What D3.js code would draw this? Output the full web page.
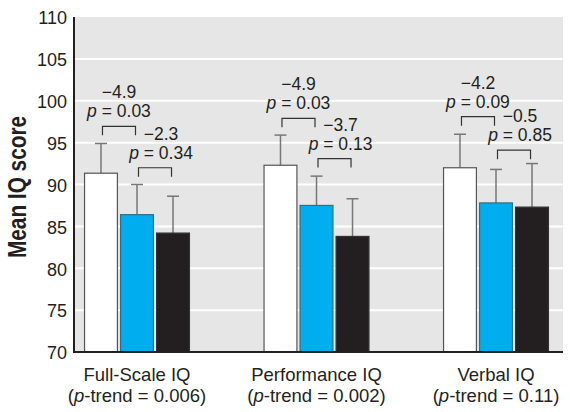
<!DOCTYPE html>
<html><head><meta charset="utf-8">
<script src="https://cdn.jsdelivr.net/npm/d3@7"></script>
<style>
body{margin:0;background:#fff;}
text{font-family:"Liberation Sans Narrow","Arial Narrow",sans-serif;}
</style></head>
<body><svg id="c" width="570" height="412"></svg>
<script>
const groups = ["Full-Scale IQ","Performance IQ","Verbal IQ"];
const trendLabels = ["0.006","0.002","0.11"];
const seriesNames = ["low","mid","high"];
const seriesColors = ["#ffffff","#00aeef","#231f20"];
const seriesStroke = ["#555555","#2d6f86","#333333"];
const means = [[91.35,86.4,84.2],[92.3,87.5,83.8],[92.0,87.8,87.3]];
const errTops = [[94.9,90.0,88.6],[95.9,91.0,88.3],[96.0,91.8,92.5]];
const diffLabels = [["\u22124.9","\u22122.3"],["\u22124.9","\u22123.7"],["\u22124.2","\u22120.5"]];
const pLabels = [["0.03","0.34"],["0.03","0.13"],["0.09","0.85"]];
const bracketLevels = [[96.95,92.0],[97.9,93.1],[98.1,94.1]];
const yTicks = [70,75,80,85,90,95,100,105,110];

const svg = d3.select("#c");
const L=74,R=563,T=17,B=352;
const y = d3.scaleLinear().domain([70,110]).range([B,T]);
const x0 = d3.scaleBand().domain(groups).range([47.25,585.75]).paddingInner(0.41).paddingOuter(0.205);
const x1 = d3.scaleBand().domain(seriesNames).range([0,x0.bandwidth()]).paddingInner(0.06);

svg.append("rect").attr("x",L).attr("y",T).attr("width",R-L).attr("height",B-T).attr("fill","#e6e6e6");
svg.append("g").selectAll("line").data(yTicks.filter(d=>d>70&&d<110)).join("line")
  .attr("x1",L).attr("x2",R).attr("y1",d=>y(d)).attr("y2",d=>y(d)).attr("stroke","#fff").attr("stroke-width",2);

const yAxis = svg.append("g").attr("transform",`translate(${L},0)`)
  .call(d3.axisLeft(y).tickValues(yTicks).tickSize(0).tickPadding(7));
yAxis.select(".domain").remove();
yAxis.selectAll("text").attr("font-size",18).attr("fill","#231f20").attr("dy","0.38em");

groups.forEach((g,gi)=>{
  const gx = x0(g);
  const cx = i => gx + x1(seriesNames[i]) + x1.bandwidth()/2;
  const gg = svg.append("g");
  seriesNames.forEach((s,i)=>{
    gg.append("line").attr("x1",cx(i)).attr("x2",cx(i)).attr("y1",y(means[gi][i])).attr("y2",y(errTops[gi][i]))
      .attr("stroke","#777").attr("stroke-width",1.5);
    gg.append("line").attr("x1",cx(i)-6).attr("x2",cx(i)+6).attr("y1",y(errTops[gi][i])).attr("y2",y(errTops[gi][i]))
      .attr("stroke","#777").attr("stroke-width",1.5);
  });
  gg.selectAll("rect").data(means[gi]).join("rect")
    .attr("x",(d,i)=>gx+x1(seriesNames[i])+0.5).attr("width",x1.bandwidth()-1)
    .attr("y",d=>y(d)).attr("height",d=>y(70)-y(d))
    .attr("fill",(d,i)=>seriesColors[i]).attr("stroke",(d,i)=>seriesStroke[i]).attr("stroke-width",1.2);
  [0,1].forEach(k=>{
    const a = cx(k)+1.5, b = cx(k+1)-1.5, yt = y(bracketLevels[gi][k]);
    gg.append("path").attr("d",`M${a},${yt+9}V${yt}H${b}V${yt+9}`).attr("fill","none").attr("stroke","#333").attr("stroke-width",1.2);
    const tx = (a+b)/2 + (k===1?6:0);
    gg.append("text").attr("x",tx).attr("y",yt-9).attr("text-anchor","middle").attr("font-size",17.5).attr("fill","#231f20")
      .call(t=>{t.append("tspan").attr("font-style","italic").text("p");t.append("tspan").text(" = "+pLabels[gi][k]);});
    gg.append("text").attr("x",tx).attr("y",yt-28).attr("text-anchor","middle").attr("font-size",17.5).attr("fill","#231f20")
      .text(diffLabels[gi][k]);
  });
  const cxg = gx + x0.bandwidth()/2;
  svg.append("text").attr("x",cxg).attr("y",381).attr("text-anchor","middle").attr("font-size",18.5).attr("fill","#231f20").text(g);
  svg.append("text").attr("x",cxg).attr("y",402).attr("text-anchor","middle").attr("font-size",18.5).attr("fill","#231f20")
    .call(t=>{t.append("tspan").text("(");t.append("tspan").attr("font-style","italic").text("p");t.append("tspan").text("-trend = "+trendLabels[gi]+")");});
});

svg.append("line").attr("x1",L).attr("x2",L).attr("y1",T).attr("y2",B+1).attr("stroke","#231f20").attr("stroke-width",2);
svg.append("line").attr("x1",L-1).attr("x2",R).attr("y1",B).attr("y2",B).attr("stroke","#231f20").attr("stroke-width",2);

svg.append("text").attr("transform","translate(26,187) rotate(-90) scale(0.8,1)").attr("text-anchor","middle")
  .attr("font-size",26).attr("font-weight","bold").attr("fill","#231f20").text("Mean IQ score");
</script></body></html>
